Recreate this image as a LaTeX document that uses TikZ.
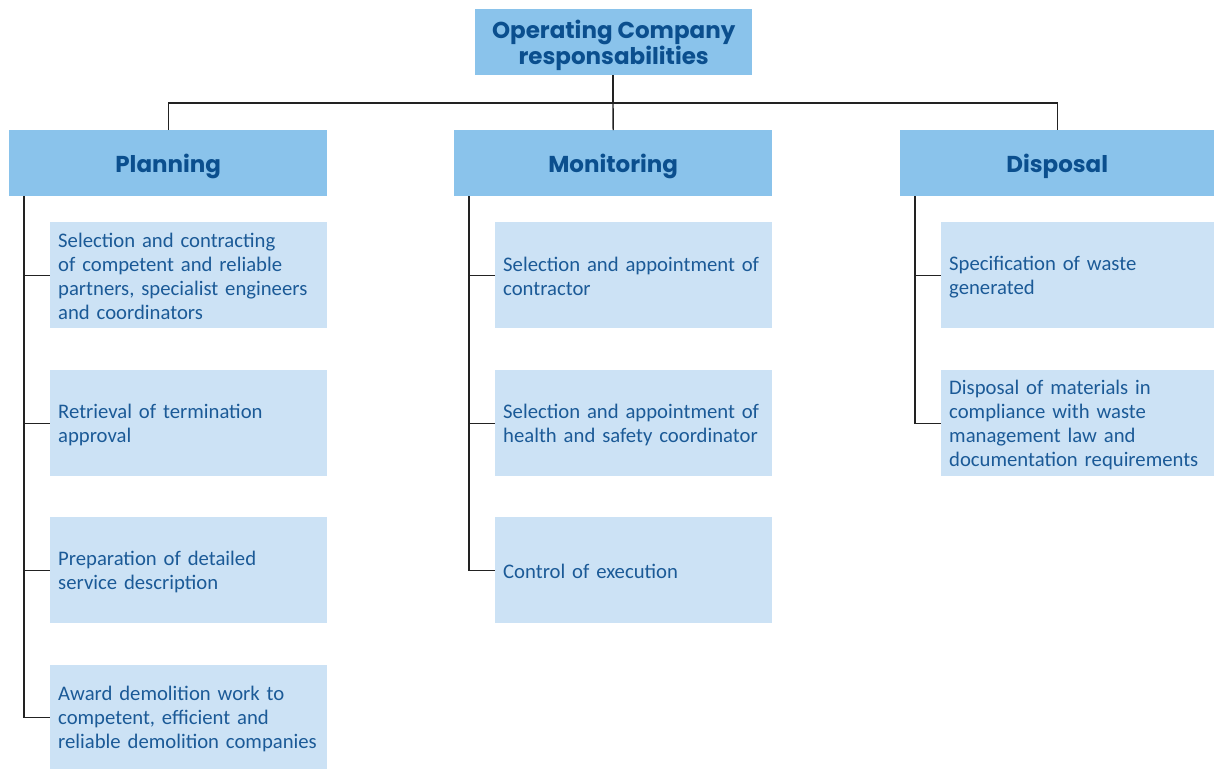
\documentclass[tikz,border=0pt]{standalone}
\usepackage{fontspec}
\setmainfont{Carlito}
\newfontfamily\headfont{Poppins}
\definecolor{headfill}{HTML}{8AC3EB}
\definecolor{itemfill}{HTML}{CCE2F5}
\definecolor{headtext}{HTML}{0B4F8E}
\definecolor{itemtext}{HTML}{1B5A97}
\definecolor{linec}{HTML}{222222}
\begin{document}
\begin{tikzpicture}[x=1pt,y=-1pt,
  headbox/.style={fill=headfill,draw=none,inner sep=0pt,anchor=north west},
  headlabel/.style={text=headtext,font=\headfont\bfseries\fontsize{23}{24}\selectfont,align=center,inner sep=0pt},
  itembox/.style={fill=itemfill,draw=none,anchor=north west,inner sep=0pt,
    minimum width=277pt,minimum height=106pt},
  itemlabel/.style={inner sep=0pt,text width=261pt,align=left,text=itemtext,
    font=\fontsize{20.7}{24}\selectfont,yshift=-1.5pt},
  conn/.style={draw=linec,line width=1.4pt}]
\useasboundingbox (0,0) rectangle (1214,769);
% top
\node[headbox,minimum width=277pt,minimum height=66pt,
  label={[headlabel,yshift=-3pt]center:Operating Company\\responsabilities}] (top) at (475,9) {};
% heads
\node[headbox,minimum width=318pt,minimum height=66pt,
  label={[headlabel,yshift=-3pt]center:Planning}] (ph) at (9,130) {};
\node[headbox,minimum width=318pt,minimum height=66pt,
  label={[headlabel,yshift=-3pt]center:Monitoring}] (mh) at (454,130) {};
\node[headbox,minimum width=314pt,minimum height=66pt,
  label={[headlabel,yshift=-3pt]center:Disposal}] (dh) at (900,130) {};
% planning items
\node[itembox,label={[itemlabel]center:Selection and contracting\\of competent and reliable\\partners, specialist engineers\\and coordinators}] (p1) at (50,222) {};
\node[itembox,label={[itemlabel]center:Retrieval of termination\\approval}] (p2) at (50,370) {};
\node[itembox,label={[itemlabel]center:Preparation of detailed\\service description}] (p3) at (50,517) {};
\node[itembox,minimum height=104pt,label={[itemlabel]center:Award demolition work to\\competent, efficient and\\reliable demolition companies}] (p4) at (50,665) {};
% monitoring items
\node[itembox,label={[itemlabel]center:Selection and appointment of\\contractor}] (m1) at (495,222) {};
\node[itembox,label={[itemlabel]center:Selection and appointment of\\health and safety coordinator}] (m2) at (495,370) {};
\node[itembox,label={[itemlabel]center:Control of execution}] (m3) at (495,517) {};
% disposal items
\node[itembox,minimum width=273pt,label={[itemlabel,text width=257pt]center:Specification of waste\\generated}] (d1) at (941,222) {};
\node[itembox,minimum width=273pt,label={[itemlabel,text width=257pt]center:Disposal of materials in\\compliance with waste\\management law and\\documentation requirements}] (d2) at (941,370) {};
% tree connectors
\coordinate (bus) at (613,103);
\draw[conn] (top.south -| bus) -- (bus);
\draw[conn] (ph.north) |- (bus) -| (dh.north);
\draw[conn] (bus) -- (mh.north);
\coordinate (pt) at (24,196);
\coordinate (mt) at (469,196);
\coordinate (dt) at (915,196);
\draw[conn] (pt) |- (p4.west);
\draw[conn] (pt |- p1.west) -- (p1.west);
\draw[conn] (pt |- p2.west) -- (p2.west);
\draw[conn] (pt |- p3.west) -- (p3.west);
\draw[conn] (mt) |- (m3.west);
\draw[conn] (mt |- m1.west) -- (m1.west);
\draw[conn] (mt |- m2.west) -- (m2.west);
\draw[conn] (dt) |- (d2.west);
\draw[conn] (dt |- d1.west) -- (d1.west);
\end{tikzpicture}
\end{document}
